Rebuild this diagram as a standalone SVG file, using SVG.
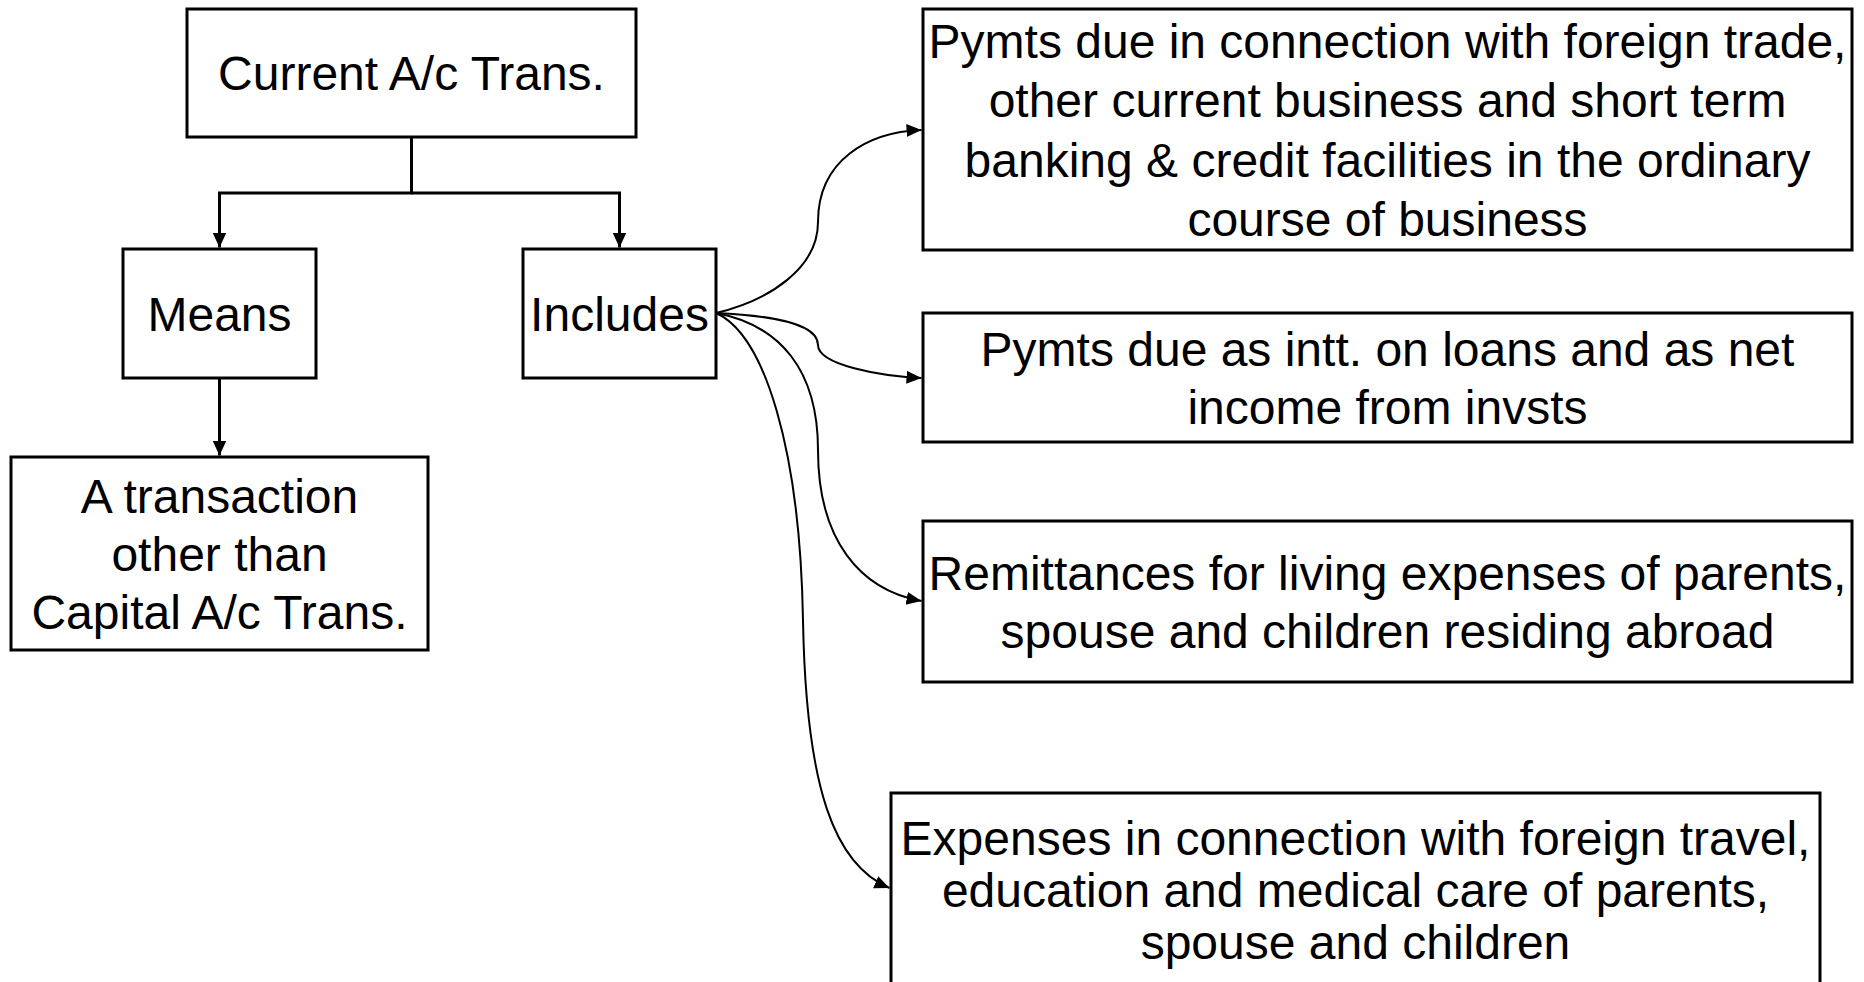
<svg xmlns="http://www.w3.org/2000/svg" width="1864" height="982" viewBox="0 0 1864 982">
<style>
.box{fill:#fff;stroke:#000;stroke-width:3}
.t{font-family:"Liberation Sans",Arial,sans-serif;font-size:48px;fill:#000;text-anchor:middle}
.el{fill:none;stroke:#000;stroke-width:3}
.cv{fill:none;stroke:#000;stroke-width:2}
</style>
<defs>
<marker id="ah" markerUnits="userSpaceOnUse" markerWidth="20" markerHeight="20" refX="15" refY="7" orient="auto">
<path d="M0,0 L15,7 L0,14 Z" fill="#000"/>
</marker>
<marker id="ah2" markerUnits="userSpaceOnUse" markerWidth="20" markerHeight="20" refX="15" refY="6.5" orient="auto">
<path d="M0,0 L15,6.5 L0,13 Z" fill="#000"/>
</marker>
</defs>
<rect width="1864" height="982" fill="#fff"/>
<g id="connectors">
<path class="el" d="M411.5,137 V193 H219.5 V247.5" marker-end="url(#ah)"/>
<path class="el" d="M411.5,193 H619.5 V247.5" marker-end="url(#ah)"/>
<path class="el" d="M219.5,378 V455.5" marker-end="url(#ah)"/>
<path class="cv" d="M716,313 C770,300 818,268 818,222 C818,160 868,132 921.5,130" marker-end="url(#ah2)"/>
<path class="cv" d="M716,313 C780,316 818,325 818,345 C818,365 880,376 921.5,378" marker-end="url(#ah2)"/>
<path class="cv" d="M716,313 C780,325 818,370 818,450 C818,540 860,590 921.5,601" marker-end="url(#ah2)"/>
<path class="cv" d="M716,313 C765,335 800,450 803,620 C806,790 835,865 889.5,888" marker-end="url(#ah2)"/>
</g>
<g id="current">
<rect class="box" x="187" y="9" width="449" height="128"/>
<text class="t" x="411.5" y="90">Current A/c Trans.</text>
</g>
<g id="means">
<rect class="box" x="123" y="249" width="193" height="129"/>
<text class="t" x="219.5" y="330.5">Means</text>
</g>
<g id="includes">
<rect class="box" x="523" y="249" width="193" height="129"/>
<text class="t" x="619.5" y="330.5">Includes</text>
</g>
<g id="transaction">
<rect class="box" x="11" y="457" width="417" height="193"/>
<text class="t" x="219.5" y="512.5">A transaction</text>
<text class="t" x="219.5" y="570.5">other than</text>
<text class="t" x="219.5" y="628.5">Capital A/c Trans.</text>
</g>
<g id="box1">
<rect class="box" x="923" y="9" width="929" height="241"/>
<text class="t" x="1387.5" y="57.5">Pymts due in connection with foreign trade,</text>
<text class="t" x="1387.5" y="117">other current business and short term</text>
<text class="t" x="1387.5" y="176.5">banking &amp; credit facilities in the ordinary</text>
<text class="t" x="1387.5" y="235.5">course of business</text>
</g>
<g id="box2">
<rect class="box" x="923" y="313" width="929" height="129"/>
<text class="t" x="1387.5" y="365.5">Pymts due as intt. on loans and as net</text>
<text class="t" x="1387.5" y="423.5">income from invsts</text>
</g>
<g id="box3">
<rect class="box" x="923" y="521" width="929" height="161"/>
<text class="t" x="1387.5" y="589.5">Remittances for living expenses of parents,</text>
<text class="t" x="1387.5" y="647.5">spouse and children residing abroad</text>
</g>
<g id="box4">
<rect class="box" x="891" y="793" width="929" height="195"/>
<text class="t" x="1355.5" y="855">Expenses in connection with foreign travel,</text>
<text class="t" x="1355.5" y="907">education and medical care of parents,</text>
<text class="t" x="1355.5" y="959">spouse and children</text>
</g>
</svg>
